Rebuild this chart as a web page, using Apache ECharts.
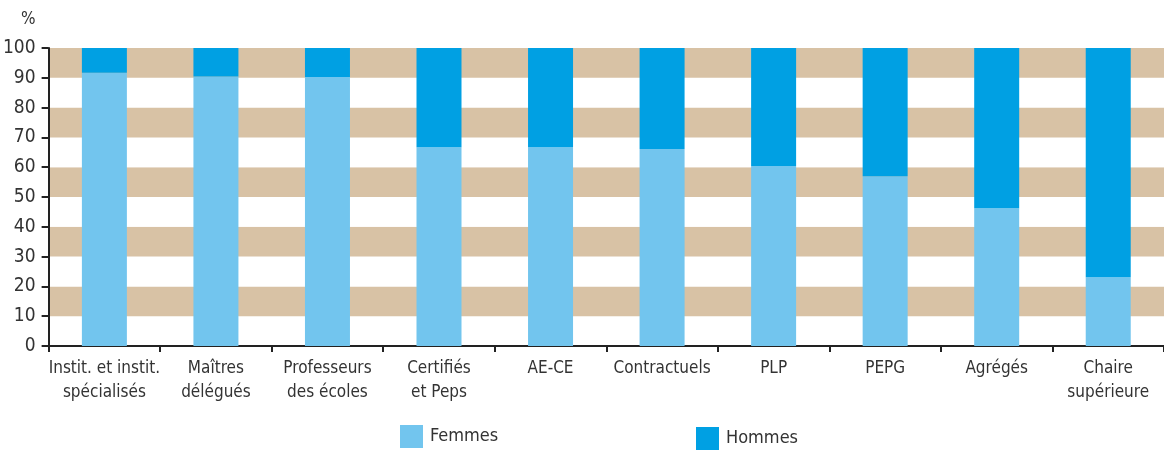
<!DOCTYPE html>
<html>
<head>
<meta charset="utf-8">
<script src="https://cdn.jsdelivr.net/npm/echarts@6/dist/echarts.min.js"></script>
<style>
  html, body { margin: 0; padding: 0; background: #fff; }
  #chart { width: 1164px; height: 450px; }
</style>
</head>
<body>
<div id="chart"></div>
<script>
const categories = ['Instit. et instit.\nspécialisés', 'Maîtres\ndélégués', 'Professeurs\ndes écoles',
  'Certifiés\net Peps', 'AE-CE', 'Contractuels', 'PLP', 'PEPG', 'Agrégés', 'Chaire\nsupérieure'];
const femmes = [91.7, 90.4, 90.3, 66.7, 66.7, 66.1, 60.4, 57.0, 46.2, 23.1];
const hommes = [8.3, 9.6, 9.7, 33.3, 33.3, 33.9, 39.6, 43.0, 53.8, 76.9];
const yTicks = [0, 10, 20, 30, 40, 50, 60, 70, 80, 90, 100];

const font = "'Liberation Sans Narrow', 'DejaVu Sans Condensed', 'Roboto', sans-serif";
const txt = '#333';

let chart = echarts.init(document.getElementById('chart'));

let option = {
  backgroundColor: '#fff',
  animation: false,
  textStyle: { fontFamily: font },
  grid: { left: 47, right: -4, top: 48, bottom: 104, containLabel: false },
  legend: [{
    left: 400, top: 425, padding: 0,
    itemWidth: 23, itemHeight: 23, icon: 'rect',
    data: ['Femmes'],
    textStyle: { fontFamily: font, fontSize: 18, color: txt, padding: [0, 0, 0, 2] }
  }, {
    left: 696, top: 427, padding: 0,
    itemWidth: 23, itemHeight: 23, icon: 'rect',
    data: ['Hommes'],
    textStyle: { fontFamily: font, fontSize: 18, color: txt, padding: [0, 0, 0, 2] }
  }],
  xAxis: {
    type: 'category',
    data: categories,
    boundaryGap: true,
    axisLine: { show: true, lineStyle: { color: '#222', width: 2 } },
    axisTick: { show: true, length: 6, lineStyle: { color: '#222', width: 2 } },
    axisLabel: { interval: 0, margin: 11, fontFamily: font, fontSize: 17, color: txt, lineHeight: 24 }
  },
  yAxis: {
    type: 'value',
    min: yTicks[0],
    max: yTicks[yTicks.length - 1],
    interval: 10,
    name: '%',
    nameGap: 20,
    nameTextStyle: { fontFamily: font, fontSize: 17, color: txt, align: 'right', padding: [0, 13, 0, 0] },
    axisLine: { show: true, lineStyle: { color: '#222', width: 2 } },
    axisTick: { show: true, length: 7, lineStyle: { color: '#222', width: 2 } },
    axisLabel: { margin: 13, fontFamily: font, fontSize: 19, color: txt },
    splitLine: { show: false },
    splitArea: { show: true, areaStyle: { color: ['#ffffff', '#d8c2a5'] } }
  },
  series: [{
    name: 'Femmes',
    type: 'bar',
    stack: 'total',
    barWidth: 45,
    itemStyle: { color: '#72c5ee' },
    data: femmes
  }, {
    name: 'Hommes',
    type: 'bar',
    stack: 'total',
    barWidth: 45,
    itemStyle: { color: '#00a0e3' },
    data: hommes
  }]
};

chart.setOption(option);
</script>
</body>
</html>
